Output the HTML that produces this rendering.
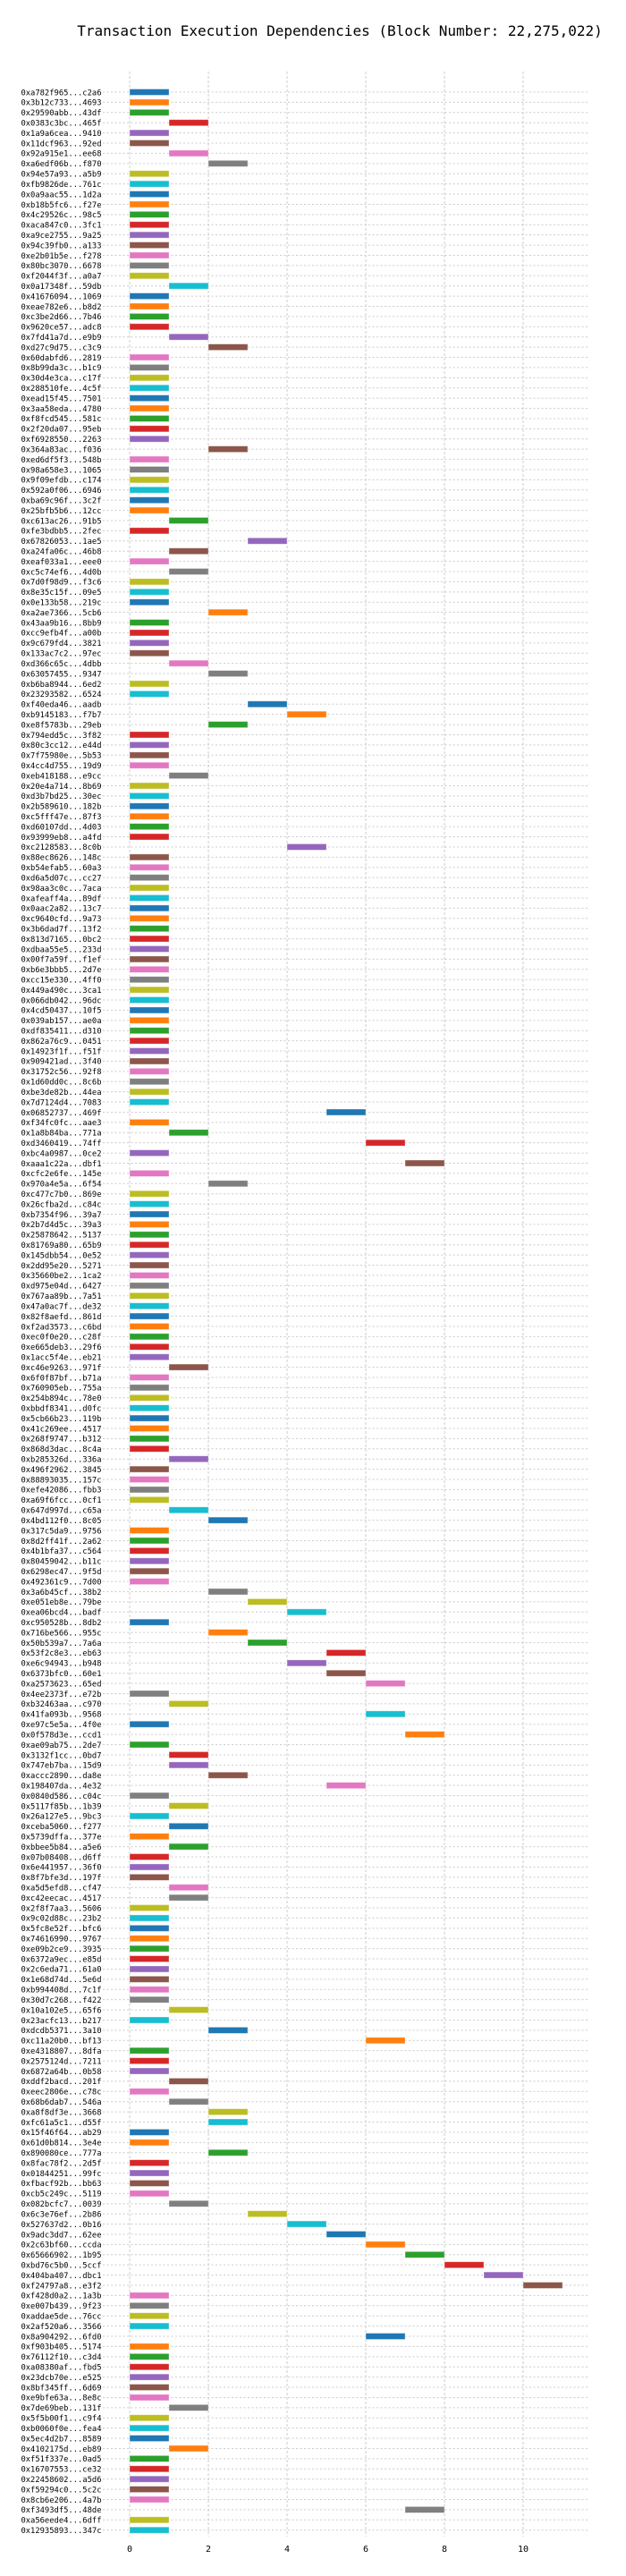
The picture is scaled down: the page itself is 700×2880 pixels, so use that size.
<!DOCTYPE html>
<html>
<head>
<meta charset="utf-8">
<style>
html,body{margin:0;padding:0;background:#fff;}
svg{display:block;}
text{font-family:"DejaVu Sans Mono","Liberation Mono",monospace;fill:#000;}
</style>
</head>
<body>
<svg id="chart" width="700" height="2880" viewBox="0 0 700 2880" xmlns="http://www.w3.org/2000/svg">
<text x="380" y="40" font-size="16" text-anchor="middle">Transaction Execution Dependencies (Block Number: 22,275,022)</text>
<g id="grid"></g>
<g id="bars"></g>
<g id="labels"></g>
<g id="xticks"></g>
</svg>
<script>
const txLabels = [
"0xa782f965...c2a6","0x3b12c733...4693","0x29590abb...43df","0x0383c3bc...465f","0x1a9a6cea...9410","0x11dcf963...92ed","0x92a915e1...ee68","0xa6edf06b...f870","0x94e57a93...a5b9","0xfb9826de...761c",
"0x0a9aac55...1d2a","0xb18b5fc6...f27e","0x4c29526c...98c5","0xaca847c0...3fc1","0xa9ce2755...9a25","0x94c39fb0...a133","0xe2b01b5e...f278","0x80bc3070...6678","0xf2044f3f...a0a7","0x0a17348f...59db",
"0x41676094...1069","0xeae782e6...b8d2","0xc3be2d66...7b46","0x9620ce57...adc8","0x7fd41a7d...e9b9","0xd27c9d75...c3c9","0x60dabfd6...2819","0x8b99da3c...b1c9","0x30d4e3ca...c17f","0x288510fe...4c5f",
"0xead15f45...7501","0x3aa58eda...4780","0xf8fcd545...581c","0x2f20da07...95eb","0xf6928550...2263","0x364a83ac...f036","0xed6df5f3...548b","0x98a658e3...1065","0x9f09efdb...c174","0x592a0f06...6946",
"0xba69c96f...3c2f","0x25bfb5b6...12cc","0xc613ac26...91b5","0xfe3bdbb5...2fec","0x67826053...1ae5","0xa24fa06c...46b8","0xeaf033a1...eee0","0xc5c74ef6...4d0b","0x7d0f98d9...f3c6","0x8e35c15f...09e5",
"0x0e133b58...219c","0xa2ae7366...5cb6","0x43aa9b16...8bb9","0xcc9efb4f...a00b","0x9c679fd4...3821","0x133ac7c2...97ec","0xd366c65c...4dbb","0x63057455...9347","0xb6ba8944...6ed2","0x23293582...6524",
"0xf40eda46...aadb","0xb9145183...f7b7","0xe8f5783b...29eb","0x794edd5c...3f82","0x80c3cc12...e44d","0x7f75980e...5b53","0x4cc4d755...19d9","0xeb418188...e9cc","0x20e4a714...8b69","0xd3b7bd25...30ec",
"0x2b589610...182b","0xc5fff47e...87f3","0xd60107dd...4d03","0x93999eb8...a4fd","0xc2128583...8c0b","0x88ec8626...148c","0xb54efab5...60a3","0xd6a5d07c...cc27","0x98aa3c0c...7aca","0xafeaff4a...89df",
"0x0aac2a82...13c7","0xc9640cfd...9a73","0x3b6dad7f...13f2","0x813d7165...0bc2","0xdbaa55e5...233d","0x00f7a59f...f1ef","0xb6e3bbb5...2d7e","0xcc15e330...4ff0","0x449a490c...3ca1","0x066db042...96dc",
"0x4cd50437...10f5","0x039ab157...ae0a","0xdf835411...d310","0x862a76c9...0451","0x14923f1f...f51f","0x909421ad...3f40","0x31752c56...92f8","0x1d60dd0c...8c6b","0xbe3de82b...44ea","0x7d7124d4...7083",
"0x06852737...469f","0xf34fc0fc...aae3","0x1a8b84ba...771a","0xd3460419...74ff","0xbc4a0987...0ce2","0xaaa1c22a...dbf1","0xcfc2e6fe...145e","0x970a4e5a...6f54","0xc477c7b0...869e","0x26cfba2d...c84c",
"0xb7354f96...39a7","0x2b7d4d5c...39a3","0x25878642...5137","0x81769a80...65b9","0x145dbb54...0e52","0x2dd95e20...5271","0x35660be2...1ca2","0xd975e04d...6427","0x767aa89b...7a51","0x47a0ac7f...de32",
"0x82f8aefd...861d","0xf2ad3573...c6bd","0xec0f0e20...c28f","0xe665deb3...29f6","0x1acc5f4e...eb21","0xc46e9263...971f","0x6f0f87bf...b71a","0x760905eb...755a","0x254b894c...78e0","0xbbdf8341...d0fc",
"0x5cb66b23...119b","0x41c269ee...4517","0x268f9747...b312","0x868d3dac...8c4a","0xb285326d...336a","0x496f2962...3845","0x88893035...157c","0xefe42086...fbb3","0xa69f6fcc...0cf1","0x647d997d...c65a",
"0x4bd112f0...8c05","0x317c5da9...9756","0x8d2ff41f...2a62","0x4b1bfa37...c564","0x80459042...b11c","0x6298ec47...9f5d","0x492361c9...7d00","0x3a6b45cf...38b2","0xe051eb8e...79be","0xea06bcd4...badf",
"0xc950528b...8db2","0x716be566...955c","0x50b539a7...7a6a","0x53f2c8e3...eb63","0xe6c94943...b948","0x6373bfc0...60e1","0xa2573623...65ed","0x4ee2373f...e72b","0xb32463aa...c970","0x41fa093b...9568",
"0xe97c5e5a...4f0e","0x0f578d3e...ccd1","0xae09ab75...2de7","0x3132f1cc...0bd7","0x747eb7ba...15d9","0xaccc2890...da8e","0x198407da...4e32","0x0840d586...c04c","0x5117f85b...1b39","0x26a127e5...9bc3",
"0xceba5060...f277","0x5739dffa...377e","0xbbee5b84...a5e6","0x07b08408...d6ff","0x6e441957...36f0","0x8f7bfe3d...197f","0xa5d5efd8...cf47","0xc42eecac...4517","0x2f8f7aa3...5606","0x9c02d88c...23b2",
"0x5fc8e52f...bfc6","0x74616990...9767","0xe09b2ce9...3935","0x6372a9ec...e85d","0x2c6eda71...61a0","0x1e68d74d...5e6d","0xb994408d...7c1f","0x30d7c268...f422","0x10a102e5...65f6","0x23acfc13...b217",
"0xdcdb5371...3a10","0xc11a20b0...bf13","0xe4318807...8dfa","0x2575124d...7211","0x6872a64b...0b58","0xddf2bacd...201f","0xeec2806e...c78c","0x68b6dab7...546a","0xa8f8df3e...3668","0xfc61a5c1...d55f",
"0x15f46f64...ab29","0x61d0b814...3e4e","0x890080ce...777a","0x8fac78f2...2d5f","0x01844251...99fc","0xfbacf92b...bb63","0xcb5c249c...5119","0x082bcfc7...0039","0x6c3e76ef...2b86","0x527637d2...0b16",
"0x9adc3dd7...62ee","0x2c63bf60...ccda","0x65666902...1b95","0xbd76c5b0...5ccf","0x404ba407...dbc1","0xf24797a8...e3f2","0xf428d0a2...1a3b","0xe007b439...9f23","0xaddae5de...76cc","0x2af520a6...3566",
"0x8a904292...6fd0","0xf903b405...5174","0x76112f10...c3d4","0xa08380af...fbd5","0x23dcb70e...e525","0x8bf345ff...6d69","0xe9bfe63a...8e8c","0x7de69beb...131f","0x5f5b00f1...c9f4","0xb0060f0e...fea4",
"0x5ec4d2b7...8589","0x4102175d...eb89","0xf51f337e...0ad5","0x16707553...ce32","0x22458602...a5d6","0xf59294c0...5c2c","0x8cb6e206...4a7b","0xf3493df5...48de","0xa56eede4...6dff","0x12935893...347c"
];
const startTimes = [
0,0,0,1,0,0,1,2,0,0, 0,0,0,0,0,0,0,0,0,1, 0,0,0,0,1,2,0,0,0,0, 0,0,0,0,0,2,0,0,0,0,
0,0,1,0,3,1,0,1,0,0, 0,2,0,0,0,0,1,2,0,0, 3,4,2,0,0,0,0,1,0,0, 0,0,0,0,4,0,0,0,0,0,
0,0,0,0,0,0,0,0,0,0, 0,0,0,0,0,0,0,0,0,0, 5,0,1,6,0,7,0,2,0,0, 0,0,0,0,0,0,0,0,0,0,
0,0,0,0,0,1,0,0,0,0, 0,0,0,0,1,0,0,0,0,1, 2,0,0,0,0,0,0,2,3,4, 0,2,3,5,4,5,6,0,1,6,
0,7,0,1,1,2,5,0,1,0, 1,0,1,0,0,0,1,1,0,0, 0,0,0,0,0,0,0,0,1,0, 2,6,0,0,0,1,0,1,2,2,
0,0,2,0,0,0,0,1,3,4, 5,6,7,8,9,10,0,0,0,0, 6,0,0,0,0,0,0,1,0,0, 0,1,0,0,0,0,0,7,0,0
];
const durations = [
1,1,1,1,1,1,1,1,1,1, 1,1,1,1,1,1,1,1,1,1, 1,1,1,1,1,1,1,1,1,1, 1,1,1,1,1,1,1,1,1,1,
1,1,1,1,1,1,1,1,1,1, 1,1,1,1,1,1,1,1,1,1, 1,1,1,1,1,1,1,1,1,1, 1,1,1,1,1,1,1,1,1,1,
1,1,1,1,1,1,1,1,1,1, 1,1,1,1,1,1,1,1,1,1, 1,1,1,1,1,1,1,1,1,1, 1,1,1,1,1,1,1,1,1,1,
1,1,1,1,1,1,1,1,1,1, 1,1,1,1,1,1,1,1,1,1, 1,1,1,1,1,1,1,1,1,1, 1,1,1,1,1,1,1,1,1,1,
1,1,1,1,1,1,1,1,1,1, 1,1,1,1,1,1,1,1,1,1, 1,1,1,1,1,1,1,1,1,1, 1,1,1,1,1,1,1,1,1,1,
1,1,1,1,1,1,1,1,1,1, 1,1,1,1,1,1,1,1,1,1, 1,1,1,1,1,1,1,1,1,1, 1,1,1,1,1,1,1,1,1,1
];
const xTickValues = [0,2,4,6,8,10];

const palette = ["#1f77b4","#ff7f0e","#2ca02c","#d62728","#9467bd","#8c564b","#e377c2","#7f7f7f","#bcbd22","#17becf"];
const NS = "http://www.w3.org/2000/svg";
const X0 = 145, XU = 44, PLOT_L = 115, PLOT_R = 657, PLOT_T = 80, PLOT_B = 2836;
const Y0 = 103, YSTEP = (2828.7 - 103) / (txLabels.length - 1);
function xs(v){ return X0 + v * XU; }
function ys(i){ return Y0 + i * YSTEP; }

const grid = document.getElementById("grid");
const bars = document.getElementById("bars");
const labels = document.getElementById("labels");
const xticks = document.getElementById("xticks");

for (let i = 0; i < txLabels.length; i++) {
  const y = ys(i);
  const hl = document.createElementNS(NS, "line");
  
  
  hl.setAttribute("x1", PLOT_L); hl.setAttribute("x2", PLOT_R);
  hl.setAttribute("y1", y); hl.setAttribute("y2", y);
  hl.setAttribute("stroke", "#cccccc"); hl.setAttribute("stroke-width", "1");
  hl.setAttribute("stroke-dasharray", "2,2.5");
  grid.appendChild(hl);

  const t = document.createElementNS(NS, "text");
  
  
  t.setAttribute("x", 113.5); t.setAttribute("y", y + 3.3);
  t.setAttribute("font-size", "8.8"); t.setAttribute("text-anchor", "end");
  t.textContent = txLabels[i];
  labels.appendChild(t);

  const r = document.createElementNS(NS, "rect");
  
  
  const s = startTimes[i], e = s + durations[i];
  r.setAttribute("x", xs(s)); r.setAttribute("width", xs(e) - xs(s));
  r.setAttribute("y", y - 3.5); r.setAttribute("height", 7);
  r.setAttribute("fill", palette[i % 10]);
  r.setAttribute("stroke", "rgba(255,255,255,0.45)"); r.setAttribute("stroke-width", "0.8");
  bars.appendChild(r);
}

for (const v of xTickValues) {
  const vl = document.createElementNS(NS, "line");
  
  
  vl.setAttribute("x1", xs(v)); vl.setAttribute("x2", xs(v));
  vl.setAttribute("y1", PLOT_T); vl.setAttribute("y2", PLOT_B);
  vl.setAttribute("stroke", "#cccccc"); vl.setAttribute("stroke-width", "1");
  vl.setAttribute("stroke-dasharray", "3,2");
  grid.insertBefore(vl, grid.firstChild);

  const tl = document.createElementNS(NS, "text");
  
  
  tl.setAttribute("x", xs(v)); tl.setAttribute("y", 2853);
  tl.setAttribute("font-size", "10"); tl.setAttribute("text-anchor", "middle");
  tl.textContent = String(v);
  xticks.appendChild(tl);
}
</script>
</body>
</html>
